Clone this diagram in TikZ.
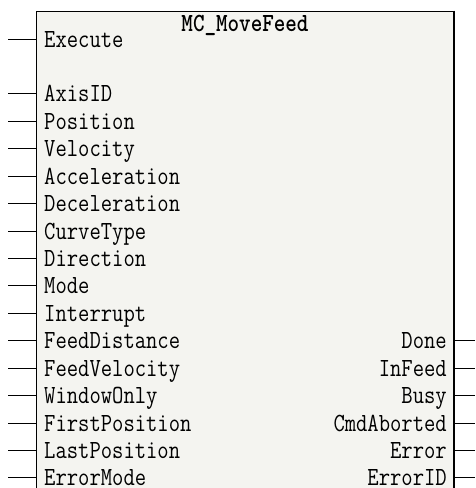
\documentclass[tikz,border=0pt]{standalone}
\usepackage{tikz}
\definecolor{boxfill}{RGB}{244,244,240}
\definecolor{shade}{RGB}{70,70,70}
\newcommand{\tallt}[1]{\scalebox{1}[1.19]{#1}}
\begin{document}
\begin{tikzpicture}[x=1pt,y=-1pt,
  lab/.style={font=\fontsize{22}{22}\selectfont\ttfamily, inner sep=0pt},
  ttl/.style={font=\fontsize{22}{22}\selectfont\ttfamily\bfseries, inner sep=0pt},
  pin/.style={line width=1pt, draw=black}]
\useasboundingbox (0,0) rectangle (475,488);
\clip (0,0) rectangle (475,488);
\fill[white] (0,0) rectangle (475,488);
% block
\coordinate (btl) at (36,11);
\coordinate (bbr) at (454,500);
\fill[boxfill] (btl) rectangle (bbr);
\draw[line width=1pt] (36,500) -- (btl) -- (454,11);
\draw[line width=2pt, shade] (454,10.5) -- (454,500);
\node[ttl, anchor=base] (title) at (245,31) {\tallt{MC\_MoveFeed}};
% inputs
\foreach \nm/\k in {Execute/0, AxisID/2, Position/3, Velocity/4, Acceleration/5,
  Deceleration/6, CurveType/7, Direction/8, Mode/9, Interrupt/10,
  FeedDistance/11, FeedVelocity/12, WindowOnly/13, FirstPosition/14,
  LastPosition/15, ErrorMode/16}{
  \pgfmathsetmacro\yy{39+27.43*\k}
  \coordinate (in\nm) at (36,\yy);
  \coordinate (in\nm end) at (8,\yy);
  \draw[pin] (in\nm end) -- (in\nm);
  \node[lab, anchor=base west] (l\nm) at (44,\yy+8) {\tallt{\nm}};
}
% outputs
\foreach \nm/\k in {Done/11, InFeed/12, Busy/13, CmdAborted/14, Error/15, ErrorID/16}{
  \pgfmathsetmacro\yy{39+27.43*\k}
  \coordinate (out\nm) at (455,\yy);
  \coordinate (out\nm end) at (475,\yy);
  \draw[pin] (out\nm) -- (out\nm end);
  \node[lab, anchor=base east] (r\nm) at (447,\yy+8) {\tallt{\nm}};
}
\end{tikzpicture}
\end{document}
